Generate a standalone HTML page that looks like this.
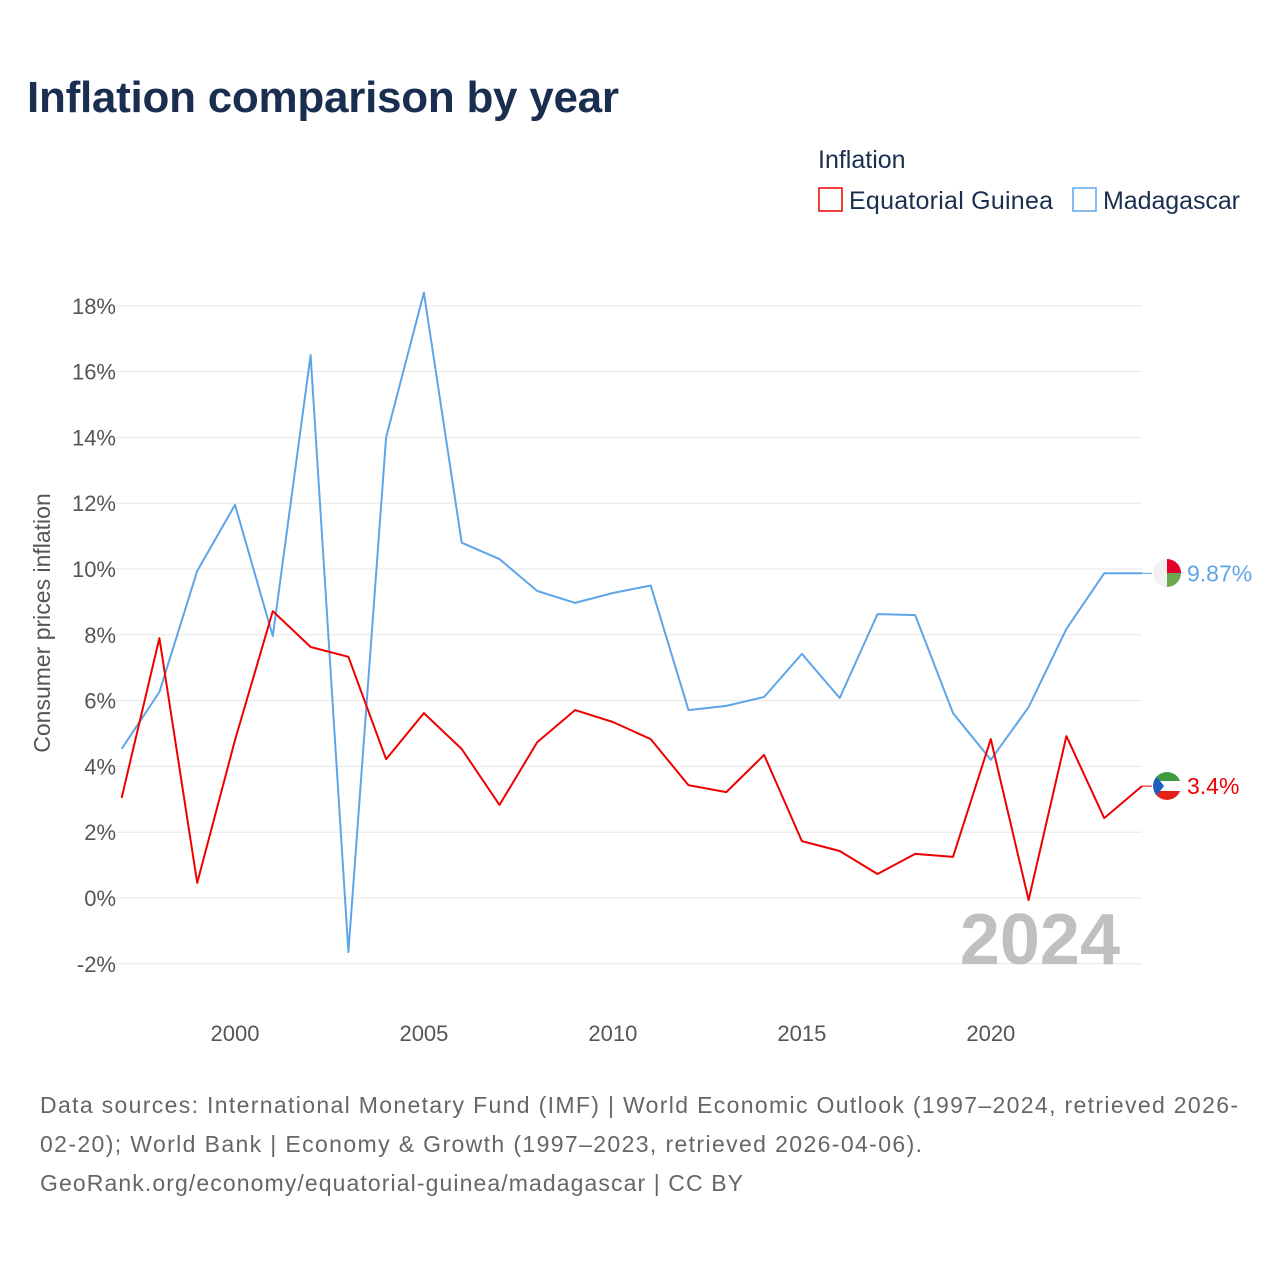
<!DOCTYPE html>
<html><head><meta charset="utf-8"><style>
body{margin:0;background:#fff;font-family:"Liberation Sans",sans-serif}
svg{display:block}
</style></head><body>
<svg id="chart" width="1280" height="1280" viewBox="0 0 1280 1280">
<defs>
<clipPath id="cmg"><circle cx="1167" cy="573" r="14"/></clipPath>
<clipPath id="ceg"><circle cx="1167" cy="786" r="14"/></clipPath>
</defs>
<rect width="1280" height="1280" fill="#fff"/>
<text x="27" y="112" font-size="44" font-weight="bold" fill="#1a2e50" textLength="592">Inflation comparison by year</text>
<text x="818" y="168" font-size="25" fill="#1a2e50">Inflation</text>
<g>
<rect x="819" y="188" width="23" height="23" fill="none" stroke="#e00" stroke-width="1.5"/>
<text x="849" y="209" font-size="25" fill="#1a2e50" textLength="204">Equatorial Guinea</text></g>
<g>
<rect x="1073" y="188" width="23" height="23" fill="none" stroke="#5ea5e8" stroke-width="1.5"/>
<text x="1103" y="209" font-size="25" fill="#1a2e50" textLength="137">Madagascar</text></g>
<text transform="translate(50,623) rotate(-90)" text-anchor="middle" font-size="23" fill="#555">Consumer prices inflation</text>
<g id="grid"></g><g id="yticks"></g><g id="xticks"></g>
<text x="1120" y="964" text-anchor="end" font-size="72" font-weight="bold" fill="#c0c0c0">2024</text>
<g id="series"></g>
<g clip-path="url(#cmg)">
<rect x="1153" y="559" width="28" height="28" fill="#f2f2f2"/>
<rect x="1167" y="559" width="14" height="14" fill="#e4002b"/>
<rect x="1167" y="573" width="14" height="14" fill="#6aa84f"/>
</g>
<g clip-path="url(#ceg)">
<rect x="1153" y="772" width="28" height="9" fill="#3e9a3e"/>
<rect x="1153" y="781" width="28" height="10" fill="#fff"/>
<rect x="1153" y="791" width="28" height="9" fill="#e32118"/>
<polygon points="1153,772 1164,786 1153,800" fill="#1f5fc0"/>
</g>
<g font-size="23" fill="#666">
<text x="40" y="1113" textLength="1198">Data sources: International Monetary Fund (IMF) | World Economic Outlook (1997–2024, retrieved 2026-</text>
<text x="40" y="1152" textLength="882">02-20); World Bank | Economy &amp; Growth (1997–2023, retrieved 2026-04-06).</text>
<text x="40" y="1191" textLength="703">GeoRank.org/economy/equatorial-guinea/madagascar | CC BY</text>
</g>
</svg>
<script>
const years=[1997,1998,1999,2000,2001,2002,2003,2004,2005,2006,2007,2008,2009,2010,2011,2012,2013,2014,2015,2016,2017,2018,2019,2020,2021,2022,2023,2024];
const madagascar=[4.53,6.26,9.94,11.95,7.96,16.5,-1.64,14.0,18.4,10.8,10.3,9.33,8.97,9.27,9.5,5.71,5.84,6.11,7.42,6.08,8.63,8.6,5.62,4.2,5.8,8.18,9.87,9.87];
const eqGuinea=[3.04,7.9,0.46,4.8,8.72,7.63,7.33,4.22,5.62,4.53,2.83,4.74,5.71,5.35,4.83,3.43,3.22,4.35,1.73,1.43,0.73,1.34,1.25,4.83,-0.06,4.92,2.43,3.4];
const yTicks=[-2,0,2,4,6,8,10,12,14,16,18];
const xTicks=[2000,2005,2010,2015,2020];
const NS="http://www.w3.org/2000/svg";
const xs=y=>121.6+(y-1997)*(1142-121.6)/27;
const ys=v=>898-v*32.9;
function mk(tag,attrs,parent){const e=document.createElementNS(NS,tag);for(const k in attrs)e.setAttribute(k,attrs[k]);document.getElementById(parent).appendChild(e);return e;}
yTicks.forEach(t=>{
 const l=mk('line',{x1:116,x2:1142,y1:ys(t),y2:ys(t),stroke:'#e6e6e6','stroke-width':1},'grid');
 
 
 const tx=mk('text',{x:116,y:ys(t)+8,'text-anchor':'end','font-size':22,fill:'#555'},'yticks');
 tx.textContent=t+'%';
 
 
});
xTicks.forEach(t=>{
 const tx=mk('text',{x:xs(t),y:1041,'text-anchor':'middle','font-size':22,fill:'#555'},'xticks');
 tx.textContent=t;
 
 
});
function line(vals,color,name){
 const d=vals.map((v,i)=>(i?'L':'M')+xs(years[i]).toFixed(1)+','+ys(v).toFixed(1)).join(' ');
 const p=mk('path',{d:d,fill:'none',stroke:color,'stroke-width':2,'stroke-linejoin':'round'},'series');
 
 
 const last=vals[vals.length-1],yy=ys(last);
 mk('line',{x1:1142,x2:1152,y1:yy,y2:yy,stroke:color,'stroke-width':1},'series');
 const t=mk('text',{x:1187,y:yy+8,'font-size':23,fill:color},'series');
 t.textContent=(Math.round(last*100)/100)+'%';
 
 
}
line(madagascar,'#5ea5e8','madagascar-line');
line(eqGuinea,'#e00','equatorial-guinea-line');
</script>
</body></html>
